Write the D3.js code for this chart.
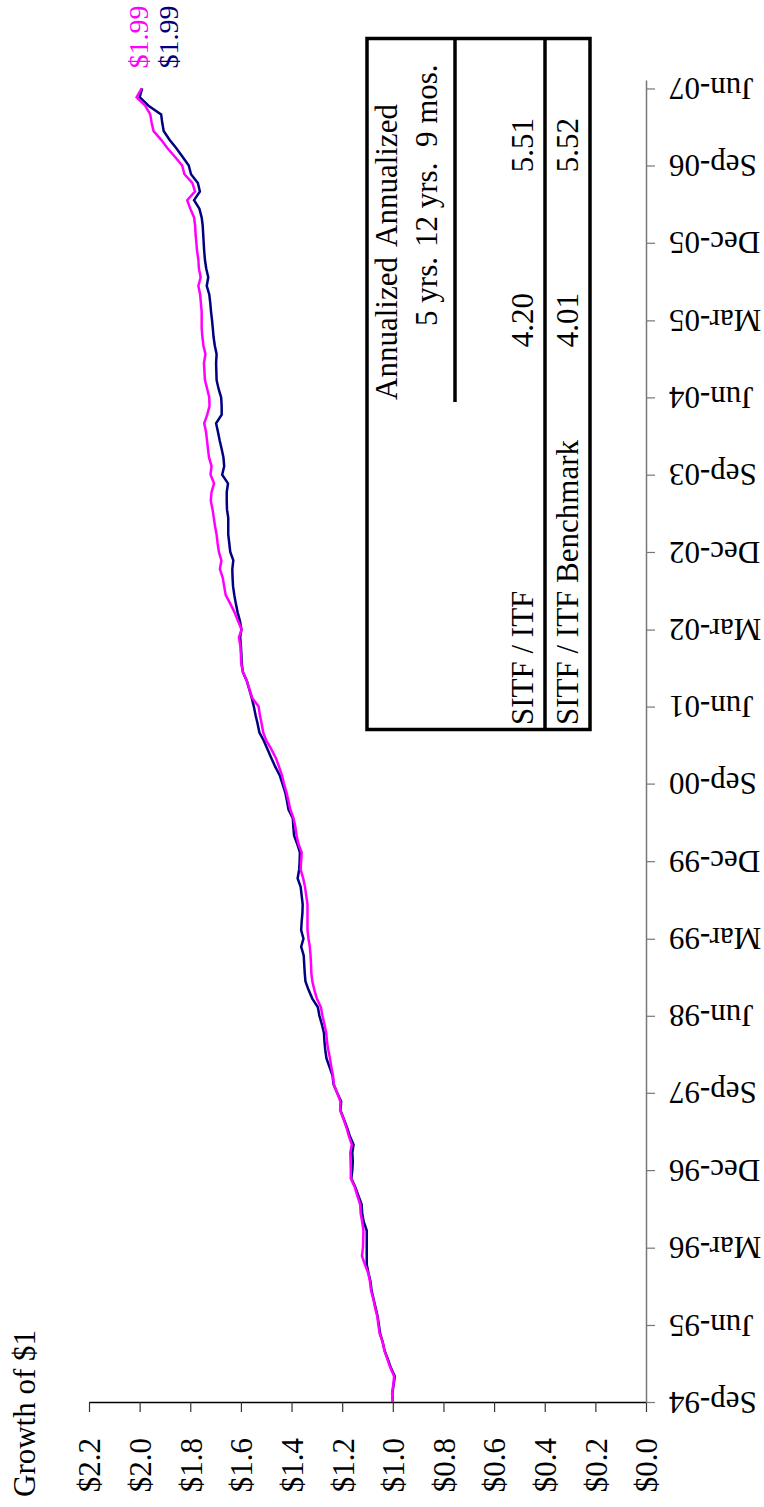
<!DOCTYPE html>
<html>
<head>
<meta charset="utf-8">
<script src="https://cdn.jsdelivr.net/npm/d3@7"></script>
<style>
  body { margin: 0; background: #fff; }
  text { font-family: "Liberation Serif", "Times New Roman", serif; }
</style>
</head>
<body>
<div id="chart"></div>
<script>
// time axis tick labels (every 9 months)
var timeTicks = ["Sep-94", "Jun-95", "Mar-96", "Dec-96", "Sep-97", "Jun-98", "Mar-99", "Dec-99",
  "Sep-00", "Jun-01", "Mar-02", "Dec-02", "Sep-03", "Jun-04", "Mar-05", "Dec-05", "Sep-06", "Jun-07"];
var valueTicks = [0, 0.2, 0.4, 0.6, 0.8, 1.0, 1.2, 1.4, 1.6, 1.8, 2.0, 2.2];

// monthly growth of $1, Sep-94 .. Jun-07
var itf = [
  1.000, 1.002, 0.997, 0.992, 1.008, 1.020, 1.032, 1.040, 1.050, 1.055,
  1.060, 1.068, 1.076, 1.084, 1.088, 1.096, 1.103, 1.103, 1.103, 1.103,
  1.103, 1.115, 1.121, 1.123, 1.136, 1.148, 1.164, 1.160, 1.158, 1.160,
  1.155, 1.170, 1.181, 1.194, 1.207, 1.204, 1.220, 1.234, 1.238, 1.250,
  1.262, 1.267, 1.270, 1.272, 1.280, 1.290, 1.296, 1.318, 1.333, 1.345,
  1.348, 1.350, 1.352, 1.362, 1.353, 1.362, 1.360, 1.357, 1.356, 1.360,
  1.364, 1.376, 1.370, 1.368, 1.367, 1.378, 1.390, 1.393, 1.395, 1.412,
  1.418, 1.425, 1.436, 1.447, 1.465, 1.480, 1.495, 1.510, 1.527, 1.534,
  1.542, 1.549, 1.557, 1.567, 1.577, 1.592, 1.597, 1.598, 1.600, 1.603,
  1.598, 1.604, 1.613, 1.620, 1.626, 1.631, 1.633, 1.634, 1.630, 1.642,
  1.646, 1.650, 1.650, 1.650, 1.655, 1.656, 1.656, 1.651, 1.674, 1.666,
  1.669, 1.676, 1.684, 1.691, 1.698, 1.676, 1.676, 1.678, 1.688, 1.696,
  1.697, 1.698, 1.696, 1.703, 1.708, 1.711, 1.714, 1.718, 1.721, 1.725,
  1.735, 1.729, 1.737, 1.742, 1.745, 1.747, 1.749, 1.751, 1.755, 1.764,
  1.785, 1.762, 1.770, 1.797, 1.806, 1.830, 1.855, 1.882, 1.905, 1.911,
  1.915, 1.965, 2.000, 1.990
];
var benchmark = [
  1.000, 1.003, 0.998, 0.995, 1.010, 1.022, 1.033, 1.040, 1.052, 1.057,
  1.061, 1.070, 1.077, 1.086, 1.090, 1.097, 1.110, 1.122, 1.118, 1.117,
  1.116, 1.121, 1.127, 1.129, 1.140, 1.150, 1.166, 1.166, 1.167, 1.168,
  1.162, 1.174, 1.183, 1.195, 1.208, 1.207, 1.220, 1.233, 1.236, 1.243,
  1.248, 1.255, 1.260, 1.263, 1.270, 1.278, 1.284, 1.300, 1.310, 1.318,
  1.322, 1.323, 1.325, 1.328, 1.333, 1.337, 1.337, 1.337, 1.337, 1.342,
  1.347, 1.354, 1.364, 1.362, 1.360, 1.373, 1.380, 1.385, 1.392, 1.405,
  1.412, 1.420, 1.430, 1.438, 1.450, 1.462, 1.480, 1.500, 1.512, 1.518,
  1.525, 1.530, 1.555, 1.566, 1.577, 1.592, 1.599, 1.600, 1.602, 1.608,
  1.597, 1.612, 1.625, 1.642, 1.660, 1.666, 1.672, 1.683, 1.677, 1.687,
  1.692, 1.696, 1.702, 1.707, 1.712, 1.719, 1.716, 1.706, 1.720, 1.716,
  1.726, 1.730, 1.734, 1.738, 1.745, 1.733, 1.724, 1.725, 1.733, 1.742,
  1.744, 1.746, 1.740, 1.748, 1.752, 1.755, 1.755, 1.755, 1.758, 1.761,
  1.768, 1.759, 1.766, 1.768, 1.773, 1.776, 1.779, 1.781, 1.785, 1.800,
  1.812, 1.781, 1.792, 1.823, 1.832, 1.860, 1.890, 1.915, 1.945, 1.953,
  1.958, 1.978, 2.012, 1.992
];
var endLabels = ["$1.99", "$1.99"];

// table
var tableHeaders = [["Annualized", "5 yrs."], ["Annualized", "12 yrs.  9 mos."]];
var tableRows = ["SITF / ITF", "SITF / ITF Benchmark"];
var fiveYear = ["4.20", "4.01"];
var sinceStart = ["5.51", "5.52"];

var W = 764, H = 1507;
var fontSize = 31;
var parseTick = d3.timeParse("%b-%y");
var tickDates = timeTicks.map(parseTick);
var start = tickDates[0];
var months = itf.map(function(d, i) { return d3.timeMonth.offset(start, i); });

var svg = d3.select("#chart").append("svg")
  .attr("width", W).attr("height", H)
  .style("font-size", fontSize + "px");

// chart is laid out rotated: value runs right->left, time runs bottom->top
var axisX = 646, axisY = 1402;
var x = d3.scaleLinear().domain([0, 2.2]).range([axisX, 89]);
var y = d3.scaleTime()
  .domain([start, d3.timeMonth.offset(tickDates[tickDates.length - 1], 1)])
  .range([axisY, 80]);

// value axis (bottom)
var gx = svg.append("g")
  .attr("transform", "translate(0," + axisY + ")")
  .call(d3.axisBottom(x).tickValues(valueTicks).tickSize(10).tickSizeOuter(0)
    .tickFormat(function(d) { return "$" + d.toFixed(1); }));
gx.select(".domain").attr("stroke", "#000").attr("stroke-width", 1.5);
gx.selectAll(".tick line").attr("stroke", "#333").attr("stroke-width", 1.2);
gx.selectAll(".tick text")
  .attr("y", null).attr("dy", "0.35em")
  .attr("text-anchor", "end")
  .attr("transform", "translate(0,36) rotate(-90)")
  .attr("fill", "#000")
  .style("font-size", fontSize + "px")
  .style("font-family", "'Liberation Serif', 'Times New Roman', serif");

// time axis (right)
var gy = svg.append("g")
  .attr("transform", "translate(" + axisX + ",0)")
  .call(d3.axisRight(y).tickValues(tickDates).tickSize(9).tickSizeOuter(0)
    .tickFormat(d3.timeFormat("%b-%y")));
gy.select(".domain").attr("stroke", "#777").attr("stroke-width", 1.5);
gy.selectAll(".tick line").attr("stroke", "#777").attr("stroke-width", 1.2);
gy.selectAll(".tick text")
  .attr("x", null).attr("dy", "0.35em")
  .attr("text-anchor", "end")
  .attr("transform", "translate(23,0) rotate(180)")
  .attr("fill", "#000")
  .style("font-size", fontSize + "px")
  .style("font-family", "'Liberation Serif', 'Times New Roman', serif");

// lines
var line = d3.line()
  .x(function(d) { return x(d[1]); })
  .y(function(d) { return y(d[0]); });

var series = [
  { values: itf, color: "#000080", labelDx: 36 },
  { values: benchmark, color: "#FF00FF", labelDx: 6 }
];
series.forEach(function(s, k) {
  var pts = s.values.map(function(v, i) { return [months[i], v]; });
  svg.append("path")
    .datum(pts)
    .attr("fill", "none")
    .attr("stroke", s.color)
    .attr("stroke-width", 2.5)
    .attr("stroke-linejoin", "miter")
    .attr("d", line);
  var last = pts[pts.length - 1];
  // end value label, sits just past the last point
  svg.append("text")
    .attr("transform", "translate(" + (x(last[1]) + s.labelDx) + "," + (y(last[0]) - 20) + ") rotate(-90)")
    .attr("fill", s.color)
    .style("font-size", "28px")
    .text(endLabels[k]);
});

// title
svg.append("text")
  .attr("transform", "translate(35,1497) rotate(-90)")
  .text("Growth of $1");

// performance table (rotated with the chart)
function rotText(px, py, str, anchor) {
  return svg.append("text")
    .attr("transform", "translate(" + px + "," + py + ") rotate(-90)")
    .attr("text-anchor", anchor)
    .style("white-space", "pre")
    .text(str);
}
var tbl = svg.append("g");
tbl.append("rect")
  .attr("x", 367).attr("y", 38.5).attr("width", 223).attr("height", 691)
  .attr("fill", "none").attr("stroke", "#000").attr("stroke-width", 3.5);
tbl.append("line")
  .attr("x1", 545).attr("x2", 545).attr("y1", 38.5).attr("y2", 729.5)
  .attr("stroke", "#000").attr("stroke-width", 3.5);
tbl.append("line")
  .attr("x1", 455).attr("x2", 455).attr("y1", 38.5).attr("y2", 402)
  .attr("stroke", "#000").attr("stroke-width", 3.5);

rotText(397, 257, tableHeaders[0][0], "end");
rotText(437, 257, tableHeaders[0][1], "end");
rotText(397, 247, tableHeaders[1][0], "start");
rotText(437, 247, tableHeaders[1][1], "start");

var rowBase = [533, 578];
tableRows.forEach(function(r, i) {
  rotText(rowBase[i], 725, r, "start");
  rotText(rowBase[i], 293, fiveYear[i], "end");
  rotText(rowBase[i], 118, sinceStart[i], "end");
});
</script>
</body>
</html>
